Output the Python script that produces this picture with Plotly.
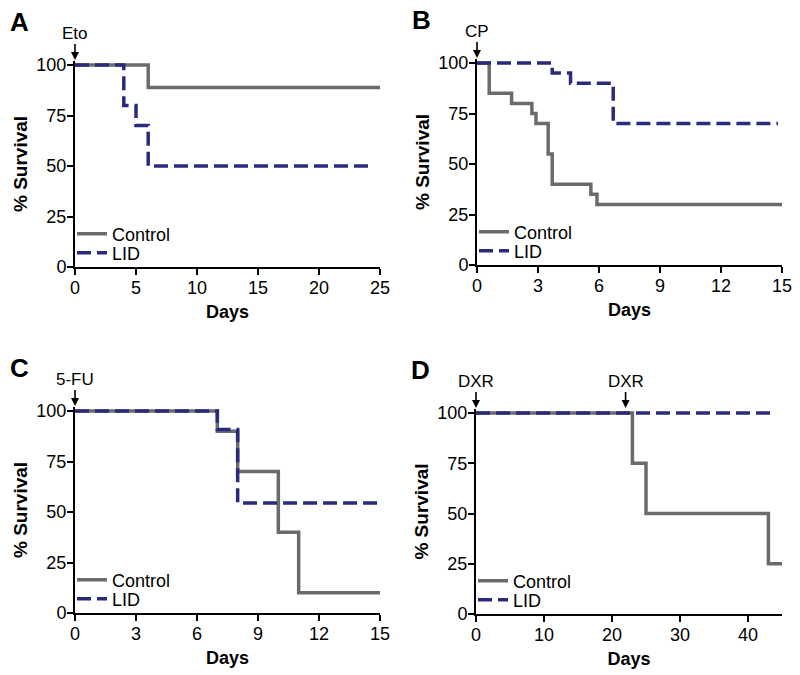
import plotly.graph_objects as go

# ---------------- data ----------------
panel_letters = ["A", "B", "C", "D"]
treatments = ["Eto", "CP", "5-FU", "DXR"]
treat_days_A = [0]
treat_days_B = [0]
treat_days_C = [0]
treat_days_D = [0, 22]

x_max = [25, 15, 15, 45]
x_ticks_A = [0, 5, 10, 15, 20, 25]
x_ticks_B = [0, 3, 6, 9, 12, 15]
x_ticks_C = [0, 3, 6, 9, 12, 15]
x_ticks_D = [0, 10, 20, 30, 40]
y_ticks = [0, 25, 50, 75, 100]
series_names = ["Control", "LID"]

ctrl_days_A = [0, 6, 25]
ctrl_surv_A = [100, 88.9, 88.9]
lid_days_A = [0, 4, 5, 6, 24.5]
lid_surv_A = [100, 80, 70, 50, 50]

ctrl_days_B = [0, 0.6, 1.7, 2.7, 2.9, 3.5, 3.7, 5.6, 5.9, 15]
ctrl_surv_B = [100, 85, 80, 75, 70, 55, 40, 35, 30, 30]
lid_days_B = [0, 3.7, 4.6, 6.7, 14.8]
lid_surv_B = [100, 95, 90, 70, 70]

ctrl_days_C = [0, 7, 8, 10, 11, 15]
ctrl_surv_C = [100, 90, 70, 40, 10, 10]
lid_days_C = [0, 7, 8, 15]
lid_surv_C = [100, 90.9, 54.5, 54.5]

ctrl_days_D = [0, 23, 25, 43, 45]
ctrl_surv_D = [100, 75, 50, 25, 25]
lid_days_D = [0, 44]
lid_surv_D = [100, 100]

# ---------------- styling ----------------
W, H = 800, 675
FONT = "Liberation Sans, Arial, Helvetica, sans-serif"
GRAY = "#6b6b6b"
NAVY = "#2a2a7c"
Y_TOP = 102

# plot-area pixel boxes: (left, right, y0 pixel, y100 pixel)
boxes = [(75, 380, 267, 65), (477, 782, 265, 63), (75, 380, 613, 411), (476, 782, 614, 413)]
legend_offsets = [33, 14]  # pixels above the x axis for Control / LID legend rows

ctrl = [(ctrl_days_A, ctrl_surv_A), (ctrl_days_B, ctrl_surv_B), (ctrl_days_C, ctrl_surv_C), (ctrl_days_D, ctrl_surv_D)]
lid = [(lid_days_A, lid_surv_A), (lid_days_B, lid_surv_B), (lid_days_C, lid_surv_C), (lid_days_D, lid_surv_D)]
xticks = [x_ticks_A, x_ticks_B, x_ticks_C, x_ticks_D]
tdays = [treat_days_A, treat_days_B, treat_days_C, treat_days_D]

fig = go.Figure()
layout = dict(
    template="none",
    width=W, height=H, margin=dict(l=0, r=0, t=0, b=0, pad=0),
    paper_bgcolor="white", plot_bgcolor="white",
    font=dict(family=FONT, color="black", size=17),
    annotations=[],
)

for i in range(4):
    sfx = "" if i == 0 else str(i + 1)
    xa, ya = "x" + sfx, "y" + sfx
    left, right, py0, py100 = boxes[i]
    ppu = (py0 - py100) / 100.0
    ptop = py0 - ppu * Y_TOP
    xdom = [left / W, right / W]
    ydom = [(H - py0) / H, (H - ptop) / H]

    styles = [dict(shape="hv", color=GRAY, width=3.5),
              dict(shape="hv", color=NAVY, width=3.5, dash="14px,6px")]
    for k, (sx, sy) in enumerate([ctrl[i], lid[i]]):
        n = 2 * i + k + 1
        lg = "legend" if n == 1 else "legend%d" % n
        fig.add_trace(go.Scatter(x=sx, y=sy, mode="lines", name=series_names[k],
                                 line=styles[k], xaxis=xa, yaxis=ya, legend=lg, showlegend=True))
        layout[lg] = dict(x=(left - 3) / W, xanchor="left",
                          y=(H - (py0 - legend_offsets[k])) / H, yanchor="middle",
                          bgcolor="rgba(0,0,0,0)", font=dict(size=18, family=FONT),
                          itemwidth=30, borderwidth=0)

    axis_common = dict(showline=True, linecolor="black", linewidth=2, automargin=False,
                       ticks="outside", ticklen=6, tickwidth=2, tickcolor="black",
                       showgrid=False, zeroline=False, tickfont=dict(size=18, family=FONT))
    layout["xaxis" + sfx] = dict(domain=xdom, anchor=ya, range=[0, x_max[i]], tickvals=xticks[i],
                                 ticklabelstandoff=-3,
                                 title=dict(text="<b>Days</b>", font=dict(size=18, family=FONT), standoff=9),
                                 **axis_common)
    layout["yaxis" + sfx] = dict(domain=ydom, anchor=xa, range=[0, Y_TOP], tickvals=y_ticks,
                                 ticklabelstandoff=-3,
                                 title=dict(text="<b>% Survival</b>", font=dict(size=19, family=FONT), standoff=4),
                                 **axis_common)

    # panel letter
    layout["annotations"].append(dict(text="<b>%s</b>" % panel_letters[i], xref="paper", yref="paper",
                                      x=(left - 56) / W, y=(H - (py100 - 43)) / H,
                                      xanchor="center", yanchor="middle", showarrow=False,
                                      font=dict(size=26, family=FONT)))
    # treatment arrows (tip a few pixels above the 100 % level)
    for d in tdays[i]:
        layout["annotations"].append(dict(text=treatments[i], xref=xa, yref="paper", x=d,
                                          y=(H - (py100 - 5)) / H,
                                          showarrow=True, arrowhead=2, arrowsize=1, arrowwidth=1.6,
                                          arrowcolor="black", ax=0, ay=-27,
                                          font=dict(size=17, family=FONT)))

fig.update_layout(**layout)
fig.write_html("out.html", config={"displayModeBar": False},
               post_script="document.body.style.margin='0px';document.body.style.overflow='hidden';")
